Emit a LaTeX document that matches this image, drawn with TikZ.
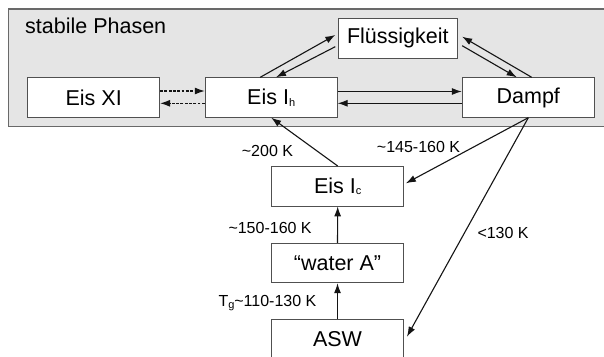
\documentclass[tikz,border=0pt]{standalone}
\usepackage{fontspec}
\setmainfont{Liberation Sans}
\usetikzlibrary{arrows.meta,calc}
\definecolor{panelfill}{RGB}{229,229,229}
\definecolor{panelline}{RGB}{105,105,105}
\definecolor{boxline}{RGB}{80,80,80}
\definecolor{arrowcol}{RGB}{20,20,20}
\newcommand{\subtxt}[1]{\raisebox{-1.5pt}{\fontsize{11}{11}\selectfont #1}}
\begin{document}
\begin{tikzpicture}[x=1pt,y=-1pt,
  phase/.style={draw=boxline, line width=0.9pt, fill=white, minimum width=132pt,
    minimum height=39.5pt, inner sep=0pt, font=\fontsize{21.5}{26}\selectfont},
  lbl/.style={anchor=base west, inner sep=0pt, font=\fontsize{16}{19}\selectfont},
  conn/.style={draw=arrowcol, line width=1.1pt, -{Latex[length=10pt,width=7pt]}},
  dconn/.style={conn, dash pattern=on 2.8pt off 1.5pt}]
\clip (0,0) rectangle (604,356);
\fill[white] (0,0) rectangle (604,356);
\path[draw=panelline, fill=panelfill, line width=1.1pt] (8.7,9) rectangle (640,126.7);
\node[lbl, font=\fontsize{21.5}{26}\selectfont] (title) at (25,33.3) {stabile Phasen};

\node[phase] (EisXI) at (93.7,97.5) {Eis XI};
\node[phase] (EisIh) at (271.2,97.5) {Eis I\subtxt{h}};
\node[phase] (Dampf) at (528.3,97.5) {Dampf};
\node[phase, minimum width=119pt, minimum height=40pt] (Fl) at (397.8,38.3) {Flüssigkeit};
\node[phase] (EisIc) at (337.7,186.2) {Eis I\subtxt{c}};
\node[phase] (WaterA) at (337.5,263) {“water A”};
\node[phase] (ASW) at (337.5,339) {ASW};

% stable phases
\draw[dconn] ([yshift=6.5pt]EisXI.east) -- ([yshift=6.5pt]EisIh.west);
\draw[dconn] ([yshift=-5.8pt]EisIh.west) -- ([yshift=-5.8pt]EisXI.east);
\draw[conn] ([yshift=6pt]EisIh.east) -- ([yshift=6pt]Dampf.west);
\draw[conn] ([yshift=-5.8pt]Dampf.west) -- ([yshift=-5.8pt]EisIh.east);
\draw[conn] ($(EisIh.north)+(-11,0)$) -- ($(Fl.west)+(-2.5,-3.3)$);
\draw[conn] ($(Fl.west)+(-2.6,8.4)$) -- ($(EisIh.north)+(4.8,0)$);
\draw[conn] ($(Fl.east)+(4.4,7.4)$) -- ($(Dampf.north)+(-11.6,0)$);
\draw[conn] ($(Dampf.north)+(3.4,0)$) -- ($(Fl.east)+(4.4,-1.6)$);

% metastable
\draw[conn] (EisIc.north) -- (EisIh.south);
\draw[conn] (WaterA.north) -- (EisIc.south);
\draw[conn] (ASW.north) -- (WaterA.south);
\draw[conn] (Dampf.south) -- ($(EisIc.east)+(1.7,-2.9)$);
\draw[conn] (Dampf.south) -- ($(ASW.east)+(3,-2.3)$);

% labels
\node[lbl] (l200) at (241.7,156.7) {\textasciitilde200 K};
\node[lbl] (l145) at (376.7,152.7) {\textasciitilde145-160 K};
\node[lbl] (l150) at (228.3,233.3) {\textasciitilde150-160 K};
\node[lbl] (ltg) at (218.3,306.5) {T\subtxt{g}\textasciitilde110-130 K};
\node[lbl] (l130) at (477.3,238.3) {<130 K};
\end{tikzpicture}
\end{document}
